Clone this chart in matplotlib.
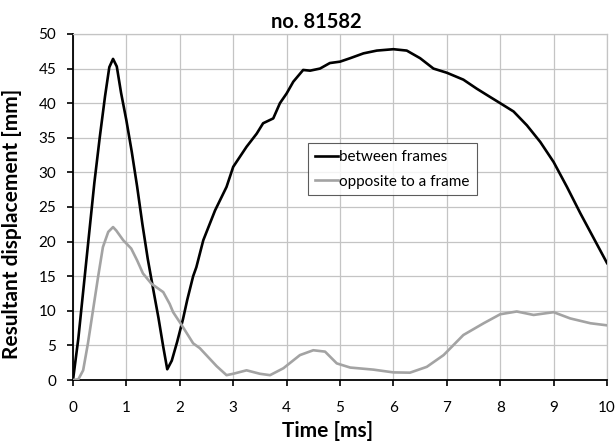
import matplotlib
matplotlib.use("Agg")
import matplotlib.pyplot as plt

# between frames (black)
t_between = [0.0, 0.1, 0.2, 0.3, 0.4, 0.5, 0.6, 0.68, 0.75, 0.82, 0.9, 1.0, 1.1, 1.2, 1.3,
             1.4, 1.5, 1.6, 1.69, 1.765, 1.85, 1.95, 2.06, 2.14, 2.25, 2.31, 2.44, 2.66, 2.875,
             3.0, 3.25, 3.44, 3.56, 3.75, 3.875,
             4.0, 4.125, 4.31, 4.44, 4.625, 4.81, 5.0, 5.19, 5.44, 5.69, 6.0, 6.25, 6.5,
             6.75, 7.0, 7.31, 7.56, 7.81, 8.0, 8.25, 8.5, 8.75, 9.0, 9.25, 9.5, 9.75, 10.0]
y_between = [0.0, 6.0, 13.5, 21.0, 28.5, 35.0, 41.0, 45.2, 46.4, 45.3, 41.5, 37.5, 33.0, 28.0, 22.5,
             17.5, 13.2, 9.0, 4.8, 1.55, 2.8, 5.5, 8.8, 11.6, 15.0, 16.3, 20.2, 24.5, 27.9,
             30.8, 33.7, 35.6, 37.1, 37.8, 40.0,
             41.4, 43.1, 44.8, 44.7, 45.0, 45.8, 46.0, 46.5, 47.2, 47.6, 47.8, 47.6, 46.5,
             45.0, 44.4, 43.4, 42.1, 40.9, 40.0, 38.8, 36.8, 34.4, 31.5, 27.9, 24.1, 20.5, 16.9]

# opposite to a frame (gray)
t_opposite = [0.0, 0.1, 0.19, 0.28, 0.375, 0.47, 0.56, 0.66, 0.75, 0.81, 0.94, 1.09, 1.2, 1.31, 1.47,
              1.69, 1.81, 1.875, 2.03, 2.25, 2.375, 2.69, 2.875, 3.0, 3.25, 3.5, 3.69, 3.94, 4.25,
              4.5, 4.72, 4.94, 5.19, 5.625, 6.0, 6.31, 6.625, 6.94, 7.31, 7.69, 8.0, 8.31,
              8.625, 9.0, 9.31, 9.69, 10.0]
y_opposite = [0.0, 0.1, 1.4, 5.3, 10.1, 14.9, 19.2, 21.4, 22.1, 21.6, 20.2, 19.0, 17.3, 15.4, 13.9,
              12.7, 11.0, 9.8, 8.0, 5.3, 4.6, 2.0, 0.7, 0.9, 1.4, 0.9, 0.7, 1.7, 3.6,
              4.3, 4.1, 2.4, 1.8, 1.5, 1.1, 1.06, 1.9, 3.6, 6.5, 8.2, 9.5, 9.9,
              9.4, 9.8, 8.9, 8.2, 7.9]

x_ticks = list(range(0, 11))
y_ticks = list(range(0, 51, 5))

plt.rcParams['font.family'] = ['Lato', 'DejaVu Sans']

fig = plt.figure(figsize=(6.16, 4.43), dpi=100)
ax = fig.add_axes([0.1185, 0.1422, 0.8669, 0.7811])

ax.plot(t_between, y_between, color='black', lw=1.9, label='between frames', zorder=3,
        solid_joinstyle='round')
ax.plot(t_opposite, y_opposite, color='#a3a3a3', lw=1.9, label='opposite to a frame', zorder=3,
        solid_joinstyle='round')

ax.set_xlim(0, 10)
ax.set_ylim(0, 50)
ax.set_xticks(x_ticks)
ax.set_yticks(y_ticks)
ax.grid(True, color='#c4c4c4', lw=0.9)
ax.set_axisbelow(True)
for s in ['top', 'right']:
    ax.spines[s].set_color('#c4c4c4')
    ax.spines[s].set_linewidth(0.9)
for s in ['left', 'bottom']:
    ax.spines[s].set_color('black')
    ax.spines[s].set_linewidth(1.3)
ax.tick_params(direction='out', length=4, width=1.2, labelsize=11)
ax.tick_params(axis='x', pad=11)
ax.tick_params(axis='y', pad=8)

ax.set_title('no. 81582', fontsize=14.5, fontweight='bold', x=0.456, pad=4)
ax.set_xlabel('Time [ms]', fontsize=15, fontweight='bold', labelpad=2)
ax.xaxis.set_label_coords(0.4775, -0.118)
ax.set_ylabel('Resultant displacement [mm]', fontsize=15, fontweight='bold')
ax.yaxis.set_label_coords(-0.095, 0.45)

leg = ax.legend(loc='upper left', bbox_to_anchor=(0.44, 0.685), fontsize=11, frameon=True,
                fancybox=False, edgecolor='#333333', handlelength=1.5, handletextpad=0.1,
                borderpad=0.45, labelspacing=0.7, borderaxespad=0)
leg.get_frame().set_linewidth(0.8)

fig.savefig('out.png', dpi=100)
